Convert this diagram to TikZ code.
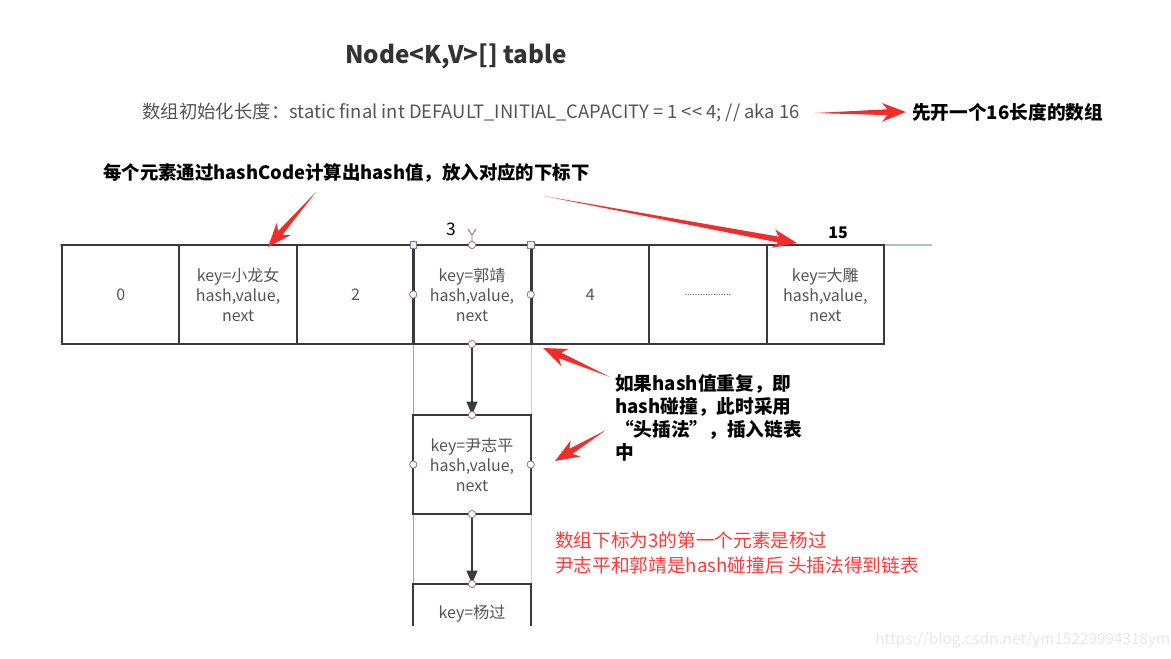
\documentclass[tikz,border=0pt]{standalone}
\usepackage{fontspec}
\setmainfont{Noto Sans CJK SC}
\usetikzlibrary{calc,arrows.meta}
\definecolor{arrred}{HTML}{F22B2B}
\definecolor{celltext}{HTML}{555555}
\definecolor{border}{HTML}{3A3A3A}
\definecolor{blueline}{HTML}{A9C3D6}
\definecolor{redtext}{HTML}{FF3838}
\definecolor{handle}{HTML}{9A6E6E}
\newcommand{\fatarrow}[2]{%
  \fill[arrred] (#1)
    -- ($(#2)!14pt!(#1)!2.2pt!90:(#2)$)
    -- ($(#2)!18pt!(#1)!7pt!90:(#2)$)
    -- (#2)
    -- ($(#2)!18pt!(#1)!7pt!-90:(#2)$)
    -- ($(#2)!14pt!(#1)!2.2pt!-90:(#2)$)
    -- cycle;}
\begin{document}
\begin{tikzpicture}[x=0.75pt,y=-0.75pt,
  cell/.style={draw=border, line width=1.5pt, minimum width=88.1pt, minimum height=74.3pt,
    inner sep=0pt, outer sep=0pt, text=celltext, font=\fontsize{12}{15}\selectfont, align=center},
  annot/.style={font=\bfseries\fontsize{14}{17.3}\selectfont, text=black, align=left, inner sep=0pt},
  redlbl/.style={font=\fontsize{14}{18.75}\selectfont, text=redtext, align=left, inner sep=0pt},
  hcirc/.style={circle, draw=handle, fill=white, line width=0.6pt, minimum size=5.5pt, inner sep=0pt},
  hsq/.style={rectangle, draw=gray, fill=blue!8, line width=0.5pt, minimum size=5pt, inner sep=0pt},
  link/.style={draw=border, line width=1.5pt, -{Triangle[length=10pt,width=8pt]}},
  guide/.style={line width=0.7pt}]
\useasboundingbox (0,0) rectangle (1171,658);
\fill[white] (0,0) rectangle (1171,658);

% titles
\node[font=\bfseries\fontsize{18.2}{21}\selectfont, text=black!80] (title) at (456,56) {Node<K,V>[] table};
\node[anchor=west, inner sep=0pt, text=celltext, font=\fontsize{13.8}{16}\selectfont] (init) at (142,112)
  {数组初始化长度：static final int DEFAULT\_INITIAL\_CAPACITY = 1 <{}< 4; // aka 16};
\node[annot, anchor=west] (first) at (912,112) {先开一个16长度的数组};
\node[annot, anchor=west, font=\bfseries\fontsize{13.8}{17}\selectfont] (each) at (103,173) {每个元素通过hashCode计算出hash值，放入对应的下标下};

% guide lines
\draw[blueline, line width=1pt] (60,245) -- (932,245);
\draw[guide, gray!70] (413,344) -- (413,625);
\draw[guide, gray!40] (531,344) -- (531,625);

% table cells
\node[cell] (c0) at (120.7,294.5) {0};
\node[cell] (c1) at (238.1,294.5) {key=小龙女\\hash,value,\\next};
\node[cell] (c2) at (355.6,294.5) {2};
\node[cell] (c3) at (472.0,294.5) {key=郭靖\\hash,value,\\next};
\node[cell] (c4) at (590.4,294.5) {4};
\node[cell] (c5) at (707.9,294.5) {\fontsize{7}{8}\selectfont ..................};
\node[cell] (c6) at (825.3,294.5) {key=大雕\\hash,value,\\next};

% index labels
\node[font=\fontsize{13}{15}\selectfont] (l3) at (451,229) {3};
\node[font=\bfseries\fontsize{12}{14}\selectfont] (l15) at (838,233) {15};

% linked list
\node[cell] (n1) at (472,464.5) {key=尹志平\\hash,value,\\next};
\begin{scope}
  \clip (380,570) rectangle (600,625);
  \node[cell] (n2) at (472,633.5) {};
\end{scope}
\node[text=celltext, font=\fontsize{12}{15}\selectfont, inner sep=0pt] (n2t) at (472,613.5) {key=杨过};
\draw[link] (c3.south) -- (n1.north);
\draw[link] (n1.south) -- (n2.north);

% selection handles
\coordinate (rh) at ($(c3.north)+(0,-10)$);
\draw[handle, line width=0.7pt] (c3.north) -- (rh) -- ++(-4,-6);
\draw[handle, line width=0.7pt] (rh) -- ++(4,-6);
\node[hsq] (h1) at (c3.north west) {};
\node[hsq] (h2) at (c3.north east) {};
\foreach \a in {north,west,east,south}{
  \node[hcirc] at (c3.\a) {};
  \node[hcirc] at (n1.\a) {};
}
\node[hcirc] (h3) at (n2.north) {};

% annotations
\node[annot, anchor=north west] (dup) at (615,374)
  {如果hash值重复，即\\hash碰撞，此时采用\\“头插法”，插入链表\\中};
\node[redlbl, anchor=north west] (note) at (555,531)
  {数组下标为3的第一个元素是杨过\\尹志平和郭靖是hash碰撞后 头插法得到链表};

% red arrows
\coordinate (a1s) at (815,113); \coordinate (a1e) at (906,112);
\coordinate (a2s) at (316,192); \coordinate (a2e) at (268,247);
\coordinate (a3s) at (544,196); \coordinate (a3e) at (797,243);
\coordinate (a4s) at (610,377); \coordinate (a4e) at (543,348);
\coordinate (a5s) at (606,430); \coordinate (a5e) at (555,461);
\fatarrow{a1s}{a1e}
\fatarrow{a2s}{a2e}
\fatarrow{a3s}{a3e}
\fatarrow{a4s}{a4e}
\fatarrow{a5s}{a5e}

% watermark
\node[anchor=west, inner sep=0pt, text=gray!18, font=\fontsize{11.5}{13}\selectfont] (wm) at (875,640)
  {https://blog.csdn.net/ym15229994318ym};
\end{tikzpicture}
\end{document}
